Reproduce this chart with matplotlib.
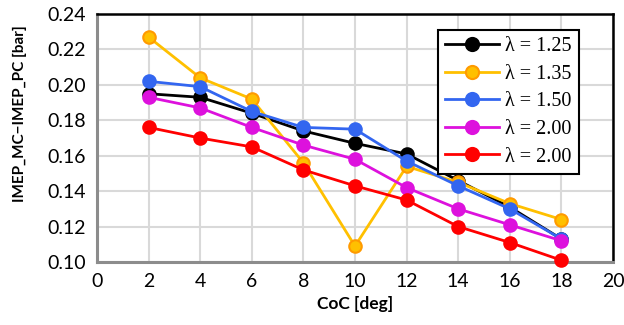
import numpy as np
import matplotlib.pyplot as plt

# CoC [deg]
coc = [2, 4, 6, 8, 10, 12, 14, 16, 18]

# IMEP_MC - IMEP_PC [bar] per lambda
imep_125 = [0.195, 0.193, 0.184, 0.174, 0.167, 0.161, 0.146, 0.131, 0.113]
imep_135 = [0.227, 0.204, 0.192, 0.156, 0.109, 0.154, 0.145, 0.133, 0.124]
imep_150 = [0.202, 0.199, 0.185, 0.176, 0.175, 0.157, 0.143, 0.130, 0.113]
imep_200a = [0.193, 0.187, 0.176, 0.166, 0.158, 0.142, 0.130, 0.121, 0.112]
imep_200b = [0.176, 0.170, 0.165, 0.152, 0.143, 0.135, 0.120, 0.111, 0.101]

labels = ["λ = 1.25", "λ = 1.35", "λ = 1.50", "λ = 2.00", "λ = 2.00"]

fig = plt.figure(figsize=(6.24, 3.25), dpi=100)
ax = fig.add_axes([0.1554, 0.1938, 0.827, 0.763])

series = [
    (imep_125, "black", "black"),
    (imep_135, "#FFC000", "#FF9A00"),
    (imep_150, "#3366F0", "#3366F0"),
    (imep_200a, "#DD11DD", "#DD11DD"),
    (imep_200b, "#FF0000", "#FF0000"),
]
for (vals, col, edge), lab in zip(series, labels):
    ax.plot(coc, vals, color=col, lw=2, marker="o", ms=9,
            mfc=col, mec=edge, mew=1.5, label=lab, clip_on=False, zorder=3)

ax.set_xlim(0, 20)
ax.set_ylim(0.10, 0.24)
ax.set_xticks(np.arange(0, 21, 2))
ax.set_yticks(np.arange(0.10, 0.241, 0.02))
ax.set_yticklabels([f"{v:.2f}" for v in np.arange(0.10, 0.241, 0.02)])
ax.grid(True, color="#D9D9D9", lw=1.5)
ax.set_axisbelow(True)
ax.tick_params(length=0, labelsize=14, pad=8)
for t in ax.get_xticklabels() + ax.get_yticklabels():
    t.set_fontfamily("Lato")

ax.spines["top"].set_color("black")
ax.spines["right"].set_color("black")
ax.spines["top"].set_linewidth(1.8)
ax.spines["right"].set_linewidth(1.8)
ax.spines["left"].set_color("#8C8C8C")
ax.spines["bottom"].set_color("#8C8C8C")
ax.spines["left"].set_linewidth(2.2)
ax.spines["bottom"].set_linewidth(2.2)

ax.set_xlabel("CoC [deg]", fontsize=12.5, fontweight="bold", family="Lato", labelpad=4)
ax.set_ylabel("IMEP_MC\u2212IMEP_PC [bar]", fontsize=11, fontweight="bold", family="Lato")
ax.yaxis.set_label_coords(-0.135, 0.60)

leg = ax.legend(loc="upper right", bbox_to_anchor=(0.934, 0.935),
                borderaxespad=0,
                prop={"family": "Liberation Serif", "size": 14.5},
                frameon=True, fancybox=False, borderpad=0.35,
                labelspacing=0.42, handlelength=2.7, handletextpad=0.3,
                markerscale=1.05)
leg.get_frame().set_edgecolor("black")
leg.get_frame().set_linewidth(1.5)
leg.get_frame().set_alpha(1)

fig.savefig("out.png", dpi=100)
